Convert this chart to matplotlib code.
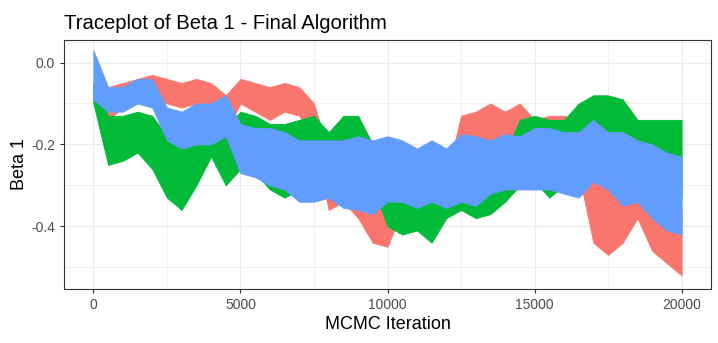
import numpy as np
import matplotlib.pyplot as plt

plt.rcParams['font.family'] = ['Liberation Sans', 'DejaVu Sans']

# iteration grid (every 500) and the upper / lower edge of each chain
iters = np.arange(0, 20001, 500)

chain1_hi = [-0.05, -0.06, -0.05, -0.04, -0.03, -0.04, -0.05, -0.04, -0.05, -0.08,
             -0.04, -0.05, -0.06, -0.05, -0.06, -0.10, -0.22, -0.22, -0.26, -0.30,
             -0.33, -0.24, -0.22, -0.19, -0.28, -0.13, -0.12, -0.10, -0.12, -0.10,
             -0.14, -0.13, -0.13, -0.14, -0.26, -0.30, -0.28, -0.24, -0.28, -0.33, -0.36]
chain1_lo = [-0.09, -0.14, -0.11, -0.10, -0.08, -0.10, -0.11, -0.10, -0.12, -0.17,
             -0.10, -0.12, -0.14, -0.12, -0.13, -0.19, -0.36, -0.34, -0.38, -0.44,
             -0.45, -0.36, -0.33, -0.30, -0.38, -0.26, -0.23, -0.20, -0.21, -0.19,
             -0.24, -0.23, -0.25, -0.27, -0.44, -0.47, -0.44, -0.38, -0.46, -0.49, -0.52]

chain2_hi = [-0.05, -0.13, -0.13, -0.12, -0.13, -0.18, -0.19, -0.18, -0.12, -0.16,
             -0.12, -0.13, -0.15, -0.15, -0.14, -0.13, -0.17, -0.13, -0.13, -0.20,
             -0.26, -0.27, -0.29, -0.33, -0.25, -0.18, -0.20, -0.19, -0.22, -0.14,
             -0.13, -0.14, -0.14, -0.10, -0.08, -0.08, -0.09, -0.14, -0.14, -0.14, -0.14]
chain2_lo = [-0.10, -0.25, -0.24, -0.22, -0.26, -0.33, -0.36, -0.30, -0.23, -0.30,
             -0.26, -0.27, -0.31, -0.33, -0.31, -0.30, -0.30, -0.26, -0.25, -0.30,
             -0.40, -0.42, -0.41, -0.44, -0.38, -0.36, -0.38, -0.37, -0.34, -0.30,
             -0.29, -0.33, -0.30, -0.26, -0.22, -0.22, -0.22, -0.25, -0.27, -0.30, -0.33]

chain3_hi = [0.03, -0.06, -0.06, -0.04, -0.04, -0.11, -0.12, -0.10, -0.10, -0.08,
             -0.15, -0.16, -0.16, -0.17, -0.19, -0.19, -0.19, -0.19, -0.18, -0.19,
             -0.18, -0.19, -0.21, -0.19, -0.21, -0.175, -0.18, -0.19, -0.175, -0.18,
             -0.16, -0.16, -0.17, -0.17, -0.14, -0.17, -0.17, -0.19, -0.20, -0.22, -0.23]
chain3_lo = [-0.09, -0.12, -0.12, -0.10, -0.11, -0.19, -0.21, -0.20, -0.20, -0.18,
             -0.27, -0.28, -0.30, -0.31, -0.34, -0.34, -0.33, -0.355, -0.36, -0.37,
             -0.34, -0.34, -0.355, -0.34, -0.355, -0.34, -0.35, -0.32, -0.31, -0.31,
             -0.31, -0.31, -0.32, -0.33, -0.29, -0.31, -0.35, -0.34, -0.38, -0.41, -0.42]

chains = [(chain1_hi, chain1_lo, '#F8766D'),
          (chain2_hi, chain2_lo, '#00BA38'),
          (chain3_hi, chain3_lo, '#619CFF')]

fig = plt.figure(figsize=(7.18, 3.43), dpi=100)
ax = fig.add_axes([64 / 718, (343 - 289) / 343, (711 - 64) / 718, (289 - 40) / 343])

for i, (hi, lo, col) in enumerate(chains):
    # the trace is so dense it reads as a band between its top and bottom
    ax.fill_between(iters, lo, hi, color=col, lw=0.6, edgecolor=col, zorder=2 + i)

ax.set_xlim(-1000, 21000)
ax.set_ylim(-0.553, 0.055)
ax.set_xticks([0, 5000, 10000, 15000, 20000])
ax.set_xticks([2500, 7500, 12500, 17500], minor=True)
ax.set_yticks([0.0, -0.2, -0.4])
ax.set_yticklabels(['0.0', '-0.2', '-0.4'])
ax.set_yticks([-0.1, -0.3, -0.5], minor=True)
ax.grid(which='major', color='#EBEBEB', lw=0.9)
ax.grid(which='minor', color='#EBEBEB', lw=0.5)
ax.set_axisbelow(True)
ax.tick_params(which='major', length=3, color='#333333', labelcolor='#4D4D4D', labelsize=10)
ax.tick_params(which='minor', length=0)
for s in ax.spines.values():
    s.set_color('#333333')
    s.set_linewidth(0.8)

ax.set_xlabel('MCMC Iteration', fontsize=13, labelpad=3)
ax.set_ylabel('Beta 1', fontsize=13, labelpad=2)
ax.set_title('Traceplot of Beta 1 - Final Algorithm', fontsize=14.6, loc='left', pad=8)

plt.savefig('out.png', dpi=100)
